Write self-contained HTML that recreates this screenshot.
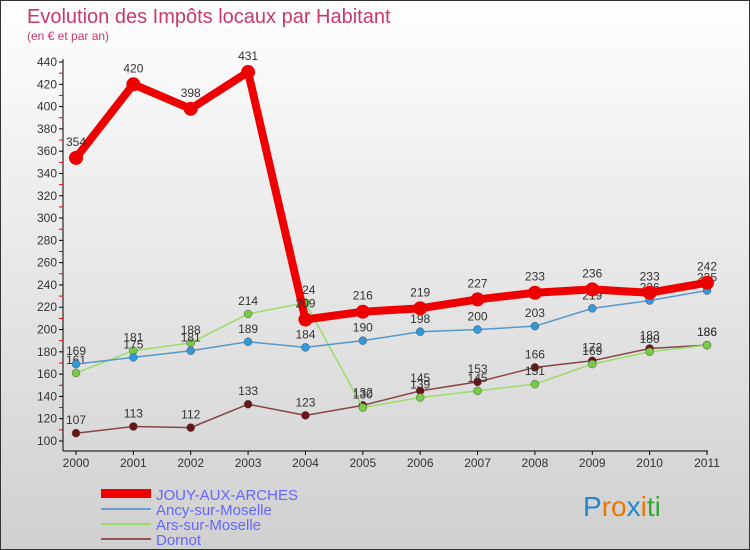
<!DOCTYPE html>
<html><head><meta charset="utf-8"><style>
body{margin:0}
#c{width:748px;height:548px;border:1px solid #333;background:linear-gradient(#fff 0%,#f0f0f0 30%,#d0d0d0 100%);position:relative;font-family:"Liberation Sans",sans-serif;overflow:hidden}
</style></head><body>
<div id="c">
<svg id="s" width="748" height="548" xmlns="http://www.w3.org/2000/svg">
<text x="26" y="22" font-size="20" fill="#c8386a">Evolution des Impôts locaux par Habitant</text>
<text x="26" y="39" font-size="12" fill="#c8386a">(en € et par an)</text>
<g id="axes"></g><g id="series"></g>
<g>
<rect x="100" y="488" width="50" height="9" fill="#e00"/>
<text x="155" y="499" font-size="15" fill="#66f">JOUY-AUX-ARCHES</text>
<rect x="100" y="507" width="50" height="2" fill="#6a9fcc"/>
<text x="155" y="514" font-size="15" fill="#66f">Ancy-sur-Moselle</text>
<rect x="100" y="522" width="50" height="2" fill="#9d6"/>
<text x="155" y="529" font-size="15" fill="#66f">Ars-sur-Moselle</text>
<rect x="100" y="537" width="50" height="2" fill="#955"/>
<text x="155" y="544" font-size="15" fill="#66f">Dornot</text>
</g>
<text x="582" y="515" font-size="28"><tspan fill="#28c">P</tspan><tspan fill="#e70">ro</tspan><tspan fill="#28c">x</tspan><tspan fill="#e70">i</tspan><tspan fill="#3a3">ti</tspan></text>
</svg></div>
<script>
const years=["2000","2001","2002","2003","2004","2005","2006","2007","2008","2009","2010","2011"];
const jouy=[354,420,398,431,209,216,219,227,233,236,233,242];
const ancy=[169,175,181,189,184,190,198,200,203,219,226,235];
const ars=[161,181,188,214,224,130,139,145,151,169,180,186];
const dornot=[107,113,112,133,123,132,145,153,166,172,183,186];
const yTicks=[100,120,140,160,180,200,220,240,260,280,300,320,340,360,380,400,420,440];
const NS="http://www.w3.org/2000/svg";
const X=i=>75+i*(631/11);
const Y=v=>440-(v-100)*(379/340);
function mk(p,t,a){const e=document.createElementNS(NS,t);for(const k in a)e.setAttribute(k,a[k]);p.appendChild(e);return e;}
const ax=document.getElementById('axes');
let e=mk(ax,'line',{x1:62,y1:58,x2:62,y2:450,stroke:'#000'});


e=mk(ax,'line',{x1:62,y1:450,x2:707,y2:450,stroke:'#000'});


yTicks.forEach(v=>{
 mk(ax,'line',{x1:58,x2:62,y1:Y(v),y2:Y(v),stroke:'#000'});
 if(v<440)mk(ax,'line',{x1:58,x2:62,y1:Y(v+10),y2:Y(v+10),stroke:'#e00'});
 const t=mk(ax,'text',{x:56,y:Y(v)+4,'font-size':12,'text-anchor':'end',fill:'#333'});
 t.textContent=v;
 
 
});
years.forEach((y,i)=>{
 mk(ax,'line',{x1:X(i),x2:X(i),y1:450,y2:454,stroke:'#000'});
 const t=mk(ax,'text',{x:X(i),y:466,'font-size':12,'text-anchor':'middle',fill:'#333'});
 t.textContent=y;
 
 
});
const sg=document.getElementById('series');
function draw(d,name,col,w,r,mcol){
 const g=mk(sg,'g',{});
 
 
 const l=mk(g,'polyline',{points:d.map((v,i)=>X(i)+','+Y(v)).join(' '),fill:'none',stroke:col,'stroke-width':w,'stroke-linejoin':'round'});
 
 
 d.forEach((v,i)=>{
  const c=mk(g,'circle',{cx:X(i),cy:Y(v),r:r,fill:mcol,stroke:'#555','stroke-width':r>5?0:0.5});
  
  
  const t=mk(g,'text',{x:X(i),y:Y(v)-r-5,'font-size':12,'text-anchor':'middle',fill:'#333'});
  t.textContent=v;
  
  
 });
}
draw(dornot,'dornot','#844',1.5,4,'#6a1515');
draw(ars,'ars','#9d6',1.5,4,'#7c4');
draw(ancy,'ancy','#59c',1.5,4,'#39d');
draw(jouy,'jouy','#e00',8,7,'#e00');
</script>
</body></html>
